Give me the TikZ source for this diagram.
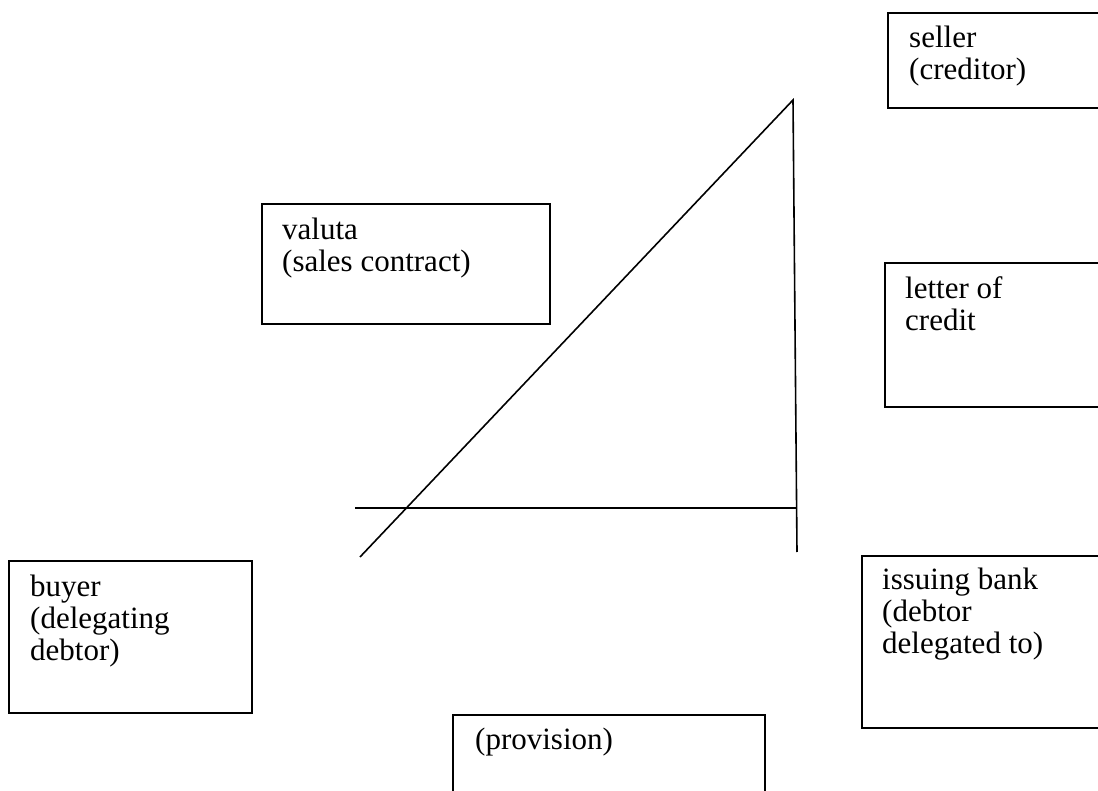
\documentclass[tikz,border=0pt]{standalone}
\usepackage{fontspec}
\setmainfont{Liberation Serif}
\usepackage{tikz}

\tikzset{
  box/.style={line width=1.6pt},
  boxtext/.style={anchor=north west, inner sep=0pt, align=left, font=\fontsize{31}{32}\selectfont},
  stroke/.style={line width=1.6pt}
}

\begin{document}
\begin{tikzpicture}[x=1pt, y=-1pt]
\useasboundingbox (0, 0) rectangle (1098, 791);
\clip (0, 0) rectangle (1098, 791);
\draw [box] (888, 13) rectangle (1110, 108);
\node [boxtext] (seller) at (909, 26) {seller\\(creditor)};
\draw [box] (262, 204) rectangle (550, 324);
\node [boxtext] (valuta) at (282, 218) {valuta\\(sales contract)};
\draw [box] (885, 263) rectangle (1110, 407);
\node [boxtext] (credit) at (905, 276) {letter of\\credit};
\draw [box] (9, 561) rectangle (252, 713);
\node [boxtext] (buyer) at (30, 575) {buyer\\(delegating\\debtor)};
\draw [box] (862, 556) rectangle (1110, 728);
\node [boxtext] (bank) at (882, 568) {issuing bank\\(debtor\\delegated to)};
\draw [box] (453, 715) rectangle (765, 800);
\node [boxtext] (provision) at (475, 728) {(provision)};
\coordinate (apex) at (793, 100);
\coordinate (foot) at (360, 557);
\coordinate (drop) at (797, 552);
\coordinate (west) at (355, 508);
\coordinate (east) at (797, 508);
\draw [stroke] (foot) -- (apex) -- (drop);
\draw [stroke] (west) -- (east);
\end{tikzpicture}
\end{document}
